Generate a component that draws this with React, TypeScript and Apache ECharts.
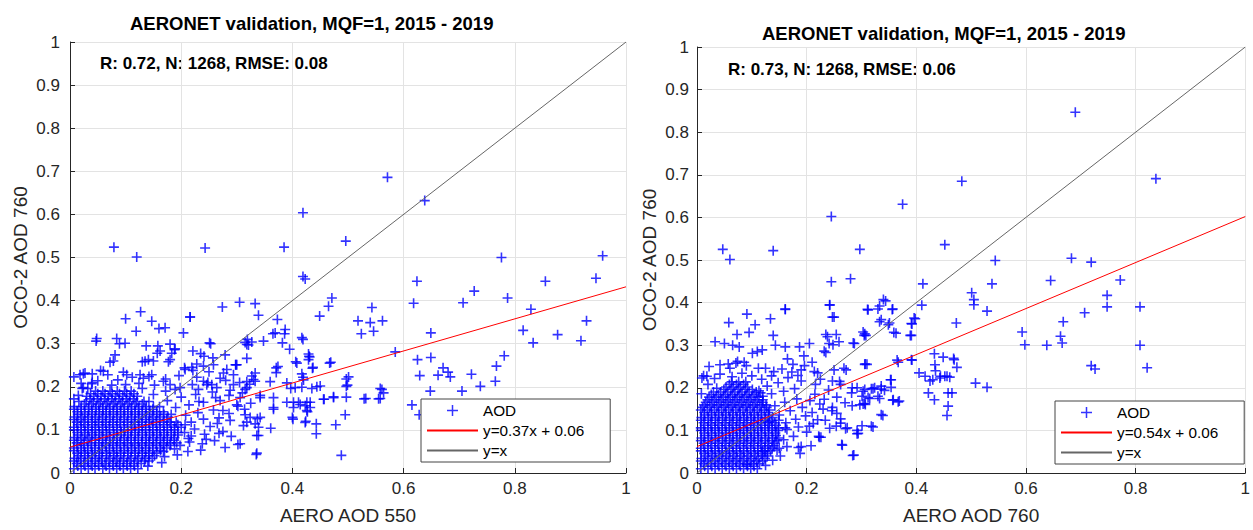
import React, { useEffect, useRef } from "react";
import * as echarts from "echarts";

// All point values are in hundredths of AOD: [x, y]
// ---------- Left panel: AERO AOD 550 vs OCO-2 AOD 760 ----------
const leftCoreRows: [number, number[]][] = [
  [1.0, [0.7, 2.0, 3.3, 4.5, 5.9, 7.1, 8.4, 9.6, 10.9]],
  [1.6, [1.4, 2.7, 4.0, 5.2, 6.5, 7.8, 9.0, 10.3, 11.6]],
  [2.2, [1.2, 2.5, 3.8, 5.1, 6.3, 7.7, 8.9, 10.2, 11.5, 12.8]],
  [2.8, [0.7, 1.9, 3.2, 4.5, 5.7, 7.0, 8.3, 9.6, 10.8, 12.1, 13.4]],
  [3.4, [0.8, 2.0, 3.3, 4.6, 5.8, 7.2, 8.5, 9.7, 11.0, 12.3, 13.6, 14.8]],
  [4.0, [1.5, 2.7, 4.0, 5.3, 6.6, 7.9, 9.1, 10.4, 11.7, 13.0, 14.2, 15.2]],
  [4.6, [1.3, 2.6, 3.9, 5.2, 6.5, 7.8, 9.1, 10.4, 11.7, 13.0, 14.2, 15.6]],
  [5.2, [0.7, 2.0, 3.2, 4.5, 5.8, 7.1, 8.4, 9.7, 11.0, 12.3, 13.6, 14.9, 16.3]],
  [5.8, [0.7, 2.0, 3.2, 4.5, 5.8, 7.1, 8.4, 9.8, 11.1, 12.4, 13.6, 14.9, 16.2, 17.4]],
  [6.4, [1.4, 2.6, 3.9, 5.2, 6.5, 7.8, 9.1, 10.4, 11.7, 13.0, 14.3, 15.6, 16.9, 18.0]],
  [7.0, [1.2, 2.5, 3.8, 5.2, 6.4, 7.7, 9.0, 10.3, 11.6, 12.9, 14.2, 15.5, 16.8, 18.1, 19.2]],
  [7.6, [0.7, 1.9, 3.1, 4.5, 5.8, 7.1, 8.4, 9.7, 11.0, 12.3, 13.6, 14.9, 16.2, 17.5, 18.7]],
  [8.2, [0.8, 2.1, 3.4, 4.6, 5.9, 7.2, 8.5, 9.8, 11.0, 12.3, 13.7, 15.0, 16.3, 17.5, 18.8]],
  [8.8, [1.4, 2.7, 4.0, 5.3, 6.6, 7.9, 9.1, 10.4, 11.7, 13.0, 14.3, 15.6, 16.9, 18.2, 19.4]],
  [9.4, [1.3, 2.6, 3.9, 5.2, 6.5, 7.8, 9.2, 10.4, 11.7, 13.0, 14.3, 15.6, 16.9, 18.2, 19.4, 20.6]],
  [10.0, [0.7, 2.0, 3.2, 4.5, 5.8, 7.1, 8.5, 9.8, 11.0, 12.3, 13.6, 14.9, 16.2, 17.5, 18.8]],
  [10.6, [0.7, 2.0, 3.3, 4.6, 5.9, 7.1, 8.4, 9.7, 11.1, 12.4, 13.6, 14.9, 16.2, 17.5, 18.8, 20.0]],
  [11.2, [1.4, 2.7, 4.0, 5.2, 6.5, 7.8, 9.1, 10.4, 11.7, 13.0, 14.3, 15.6, 16.9, 18.2, 19.4, 20.7]],
  [11.8, [1.2, 2.5, 3.9, 5.1, 6.4, 7.7, 9.0, 10.3, 11.6, 12.9, 14.2, 15.5, 16.8, 18.0, 19.1]],
  [12.4, [0.7, 1.9, 3.2, 4.5, 5.8, 7.1, 8.4, 9.7, 11.0, 12.3, 13.6, 14.8, 16.1, 17.4]],
  [13.0, [0.8, 2.1, 3.3, 4.6, 5.9, 7.2, 8.5, 9.8, 11.1, 12.4, 13.7, 15.0, 16.2, 17.6]],
  [13.6, [1.4, 2.7, 4.0, 5.3, 6.5, 7.8, 9.1, 10.4, 11.7, 13.0, 14.3, 15.6, 16.9, 18.2]],
  [14.2, [1.3, 2.6, 3.9, 5.2, 6.5, 7.8, 9.1, 10.4, 11.7, 13.0, 14.3, 15.6, 16.8]],
  [14.8, [0.7, 2.0, 3.3, 4.6, 5.9, 7.1, 8.4, 9.7, 11.0, 12.3, 13.6, 14.9]],
  [15.4, [0.8, 2.0, 3.4, 4.7, 5.9, 7.2, 8.5, 9.8, 11.1, 12.4, 13.7, 15.0, 16.1]],
  [16.0, [2.6, 3.9, 5.2, 6.5, 7.8, 9.1, 10.4, 11.7, 13.0]],
  [16.6, [1.6, 2.9, 4.2, 5.5, 6.8, 8.1, 9.4, 10.7, 12.0, 13.3, 14.2]],
  [17.2, [3.6, 4.9, 6.2, 7.5, 8.8, 10.1, 11.4]],
  [17.8, [3.0, 4.3, 5.6, 6.9, 8.2, 9.5, 10.8, 12.1]],
  [18.4, [3.7, 5.0, 6.3, 7.6, 8.9, 10.2, 11.5]],
  [19.0, [4.6, 5.9, 7.2, 8.5, 9.8, 11.0]],
];

const leftModerate: number[][] = [
  [12.2, 1.0], [14.0, 1.6], [16.5, 2.4], [14.2, 2.8], [17.0, 3.8], [19.3, 4.2], [16.8, 5.0], [18.8, 5.6],
  [21.2, 5.0], [23.5, 5.3], [19.8, 6.4], [21.5, 7.2], [23.8, 6.8], [26.0, 7.5], [21.8, 8.6], [24.2, 9.0],
  [22.4, 10.2], [25.2, 10.8], [27.5, 9.6], [21.8, 11.8], [24.0, 12.5], [26.8, 12.8], [20.8, 13.4], [23.0, 14.0],
  [25.8, 14.6], [28.6, 13.8], [19.0, 15.2], [21.4, 15.8], [24.0, 16.4], [27.0, 16.8], [30.2, 15.5], [17.5, 16.8],
  [20.0, 17.6], [22.6, 18.2], [25.6, 18.8], [28.8, 19.2], [15.0, 18.2], [17.2, 19.0], [19.8, 19.8], [13.0, 19.6],
  [15.2, 20.4], [22.0, 20.5], [24.8, 21.0], [12.4, 20.8], [10.0, 20.5], [7.5, 20.4], [3.2, 19.6], [1.5, 18.0],
  [0.7, 17.2], [2.0, 20.8], [5.0, 21.4], [8.6, 21.6], [11.2, 22.2], [14.2, 22.4], [17.2, 21.8], [19.6, 22.6],
  [27.0, 22.0], [30.5, 21.0], [6.8, 22.8], [9.6, 23.4], [4.0, 23.0], [21.3, 8.0],
  [26.5, 11.5], [28.8, 12.2], [31.2, 11.0], [27.5, 14.5], [30.0, 15.8], [32.5, 16.2], [26.2, 17.5], [28.6, 18.0],
  [31.0, 18.6], [25.5, 20.5], [28.0, 21.5], [22.8, 22.2], [25.0, 23.5], [29.0, 8.5], [26.8, 9.2], [24.5, 7.8],
  [31.5, 13.5], [23.2, 16.6],
  [1.8, 22.8], [2.7, 23.2], [3.9, 20.7], [2.4, 19.8], [10.2, 22.8], [12.6, 22.8], [13.2, 22.0], [14.7, 22.8],
  [16.8, 21.3], [18.0, 20.5], [18.9, 19.4], [24.0, 21.3], [24.6, 20.5], [23.1, 19.4], [26.4, 19.8], [29.4, 20.5],
  [31.5, 19.4], [32.7, 22.5], [33.3, 21.3],
  [6.0, 23.6], [8.1, 27.4], [7.2, 25.7], [7.8, 26.0], [13.5, 25.9], [14.1, 26.3], [15.0, 26.0], [18.0, 26.3],
  [20.7, 24.0], [21.9, 24.5], [22.8, 25.3], [24.0, 24.8], [25.8, 25.1], [28.2, 24.0], [29.4, 22.8], [27.6, 23.2],
  [30.0, 25.1], [31.8, 26.6], [32.7, 30.4], [32.1, 29.7],
  [4.8, 31.2], [4.7, 30.6], [8.4, 31.2], [8.9, 30.0], [9.9, 30.1], [13.7, 29.5], [15.8, 29.5], [16.2, 28.3],
  [15.7, 27.8], [18.9, 28.8], [18.3, 27.8], [22.1, 28.3], [24.1, 27.1], [25.3, 30.0], [27.9, 27.4],
  [10.0, 35.8], [14.7, 35.2], [16.0, 33.5], [17.1, 33.7], [12.7, 37.4], [11.9, 32.9], [20.4, 32.5], [21.6, 36.2],
  [0.7, 22.3], [2.4, 23.0], [2.2, 19.6], [4.0, 21.0], [5.5, 23.8], [13.0, 25.8], [17.7, 25.8], [18.0, 29.9],
  [18.8, 28.6], [20.6, 24.4], [22.1, 23.8], [23.5, 27.7], [25.7, 26.7], [29.8, 25.1],
];

const leftSparse: number[][] = [
  [7.9, 52.4], [12, 50.1], [24.3, 52.2], [38.5, 52.4], [41.9, 60.4], [57.1, 68.6], [63.8, 63.2], [49.6, 53.8],
  [41.9, 45.6], [42.3, 45], [77.6, 50], [95.8, 50.4], [94.6, 45.2], [85.5, 44.5], [62.4, 44.5], [72.7, 42.2],
  [78.7, 40.6], [70.7, 39.5], [61.8, 39.4], [82.9, 38], [47.1, 40.6], [46.5, 38.7], [54.3, 38.4], [44.9, 36.4],
  [51.8, 35.3], [54, 34.9], [56.2, 35.3], [52.4, 32.3], [54.6, 32.9], [64.9, 32.5], [81.5, 33.1], [92.9, 35.3],
  [87.7, 32.1], [91.9, 30.7], [83.3, 30.2], [58.5, 28.1], [62.5, 26.3], [64.9, 26.8], [78.1, 27.2], [76.7, 24.8],
  [76.5, 21.3], [72.2, 22.9], [73.8, 20.1], [67.1, 24.4], [68, 23.4], [68.4, 22.3], [66.2, 22.7], [62.9, 22.6],
  [64.8, 19], [70.5, 19], [61.5, 15.8], [62.8, 13.5], [55.8, 19.6], [55.5, 17.2], [56.4, 18.6], [52.9, 17.2],
  [49.7, 21.8], [49.7, 20.1], [49.7, 17.6], [49.5, 13.5], [47.8, 11.2], [48.8, 4.1], [46.7, 25.5], [41.9, 31],
  [39.5, 28.7], [43, 27.1], [42.9, 26.3], [43.6, 24.3], [38.6, 32.3], [36.5, 32.3], [38.2, 30.2], [37.3, 35.6],
  [33.9, 36.6], [33.3, 39.3], [30.5, 39.6], [27.4, 38.5], [21.6, 36.2], [25.1, 30.2], [31.5, 30.3], [34.8, 30.6],
  [29.8, 25.1], [37.1, 24.4], [37.1, 23.3], [40.6, 25.8], [41.9, 22.2], [44.4, 20], [39.7, 19.6], [41.4, 15.9],
  [42.3, 15.6], [45.7, 17.1], [42.7, 14.2], [40.1, 12.5], [42.3, 11.7], [44.3, 11.4], [44.3, 9.1], [36.1, 10.4],
  [33.6, 8.7], [33.5, 4.3], [30.2, 6.6], [27.9, 5.9], [36.6, 14.8], [33.7, 12.6], [34.2, 18],
  [31.9, 31], [31.8, 29.8], [36.9, 32.5], [38.7, 33.3], [41.7, 31.4], [42.9, 27.6], [43.1, 26.9], [40.8, 25.5],
  [43.7, 24.5], [46.9, 25.7], [41.7, 23], [42, 21.6], [37.4, 24.7], [33.3, 23.2], [33, 21.7], [36, 21.2],
  [31.8, 21.2], [32.3, 20.6], [50.1, 22.3], [49.9, 20.4], [56.1, 19.4], [53.2, 17.3], [55.8, 17.3], [47.4, 17.5],
  [33.6, 4.6], [33.9, 8.7], [42.4, 12], [40, 12.9], [32.4, 12.9], [34.2, 12.9], [33.3, 11.4], [31.8, 11.8],
  [33.9, 10.6], [31.4, 14.8], [39, 16.4], [40.2, 16.4], [42.6, 16.4], [43.2, 16.4], [41.1, 16.4], [40.2, 15.2],
  [43.2, 15.2], [42.6, 14.5], [45.6, 17.1], [47.4, 17.7], [45, 20.2], [43.5, 19.6], [41.7, 19.9], [40.5, 19.8],
  [39, 20.9], [36.6, 15.2], [34.2, 17.5], [31.8, 19.8], [30.6, 17.5], [36.6, 17.5], [30.6, 6.8],
];

// ---------- Right panel: AERO AOD 760 vs OCO-2 AOD 760 ----------
const rightCoreRows: [number, number[]][] = [
  [1.0, [0.7, 2.0, 3.3, 4.6, 5.9, 7.2, 8.5, 9.8]],
  [1.6, [1.4, 2.7, 4.0, 5.3, 6.6, 7.9, 9.2, 10.4]],
  [2.2, [1.2, 2.5, 3.8, 5.1, 6.4, 7.7, 9.0, 10.3, 11.4]],
  [2.8, [0.7, 1.9, 3.2, 4.5, 5.8, 7.1, 8.4, 9.7, 10.9, 12.0]],
  [3.4, [0.8, 2.1, 3.4, 4.7, 6.0, 7.3, 8.6, 9.9, 11.2, 12.4]],
  [4.0, [1.5, 2.8, 4.1, 5.4, 6.7, 8.0, 9.3, 10.6, 11.9, 12.8]],
  [4.6, [1.3, 2.6, 3.9, 5.2, 6.5, 7.8, 9.1, 10.4, 11.7, 12.9]],
  [5.2, [0.7, 2.0, 3.3, 4.6, 5.9, 7.2, 8.5, 9.8, 11.1, 12.4, 13.4]],
  [5.8, [0.7, 2.0, 3.3, 4.6, 5.9, 7.2, 8.5, 9.8, 11.1, 12.4, 13.7, 15.0]],
  [6.4, [1.4, 2.7, 4.0, 5.3, 6.6, 7.9, 9.2, 10.5, 11.8, 13.1, 14.0]],
  [7.0, [1.2, 2.5, 3.8, 5.1, 6.4, 7.7, 9.0, 10.3, 11.6, 12.9, 14.2]],
  [7.6, [0.7, 2.0, 3.3, 4.6, 5.9, 7.2, 8.5, 9.8, 11.1, 12.4, 13.7, 14.6]],
  [8.2, [0.8, 2.1, 3.4, 4.7, 6.0, 7.3, 8.6, 9.9, 11.2, 12.5, 13.8, 14.9]],
  [8.8, [1.4, 2.7, 4.0, 5.3, 6.6, 7.9, 9.2, 10.5, 11.8, 13.1, 14.4]],
  [9.4, [1.3, 2.6, 3.9, 5.2, 6.5, 7.8, 9.1, 10.4, 11.7, 13.0, 14.3]],
  [10.0, [0.7, 2.0, 3.3, 4.6, 5.9, 7.2, 8.5, 9.8, 11.1, 12.4, 13.7, 14.8]],
  [10.6, [0.7, 2.0, 3.3, 4.6, 5.9, 7.2, 8.5, 9.8, 11.1, 12.4, 13.7, 14.9, 16.1]],
  [11.2, [1.4, 2.7, 4.0, 5.3, 6.6, 7.9, 9.2, 10.5, 11.8, 13.1, 14.4]],
  [11.8, [1.2, 2.5, 3.8, 5.1, 6.4, 7.7, 9.0, 10.3, 11.6, 12.9, 14.2]],
  [12.4, [0.7, 2.0, 3.3, 4.6, 5.9, 7.2, 8.5, 9.8, 11.1, 12.4, 13.6, 14.9]],
  [13.0, [0.8, 2.1, 3.4, 4.7, 6.0, 7.3, 8.6, 9.9, 11.2, 12.5, 13.8]],
  [13.6, [1.4, 2.7, 4.0, 5.3, 6.6, 7.9, 9.2, 10.5, 11.8, 13.1]],
  [14.2, [1.3, 2.6, 3.9, 5.2, 6.5, 7.8, 9.1, 10.4, 11.7, 13.0]],
  [14.8, [0.7, 1.9, 3.2, 4.5, 5.8, 7.1, 8.4, 9.7, 11.0, 12.3, 13.2]],
  [15.4, [1.0, 2.3, 3.6, 4.9, 6.2, 7.5, 8.8, 10.1, 11.4, 12.7]],
  [16.0, [1.3, 2.6, 3.9, 5.2, 6.5, 7.8, 9.1, 10.4, 11.7, 12.6]],
  [16.6, [1.6, 2.9, 4.2, 5.5, 6.8, 8.1, 9.4, 10.7, 12.0]],
  [17.2, [1.9, 3.2, 4.5, 5.8, 7.1, 8.4, 9.7, 11.0, 12.0]],
  [17.8, [2.2, 3.5, 4.8, 6.1, 7.4, 8.7, 10.0, 11.3]],
  [18.4, [2.6, 3.9, 5.2, 6.5, 7.8, 9.1, 10.4]],
  [19.0, [3.0, 4.3, 5.6, 6.9, 8.2, 9.5, 10.8]],
  [19.6, [4.9, 6.2, 7.5, 8.8, 10.1]],
  [20.2, [5.3, 6.6, 7.9, 9.2]],
  [20.8, [5.9, 7.2, 8.5]],
  [21.4, [6.3, 7.6, 8.9]],
];

const rightModerate: number[][] = [
  [11.0, 1.0], [12.5, 1.8], [13.8, 3.0], [15.2, 4.0], [14.6, 5.4], [16.4, 6.2], [15.8, 7.8], [17.6, 8.6],
  [16.4, 10.2], [18.5, 10.8], [20.0, 9.6], [16.2, 11.8], [18.0, 12.6], [19.8, 13.4], [15.0, 13.6], [17.0, 14.6],
  [19.2, 15.4], [21.0, 14.2], [14.2, 15.8], [16.0, 16.6], [18.2, 17.4], [20.6, 17.0], [22.4, 16.2], [13.6, 18.6],
  [15.8, 19.2], [17.8, 19.8], [12.8, 20.4], [14.8, 21.2], [11.8, 22.0], [13.6, 22.8], [16.6, 22.4], [19.0, 21.6],
  [21.6, 20.8], [2.0, 20.8], [3.2, 22.2], [1.2, 22.8], [0.8, 18.6], [4.2, 23.2], [6.4, 22.6], [8.2, 23.4],
  [10.0, 22.8], [11.2, 24.6], [9.0, 25.2], [6.0, 24.6], [7.4, 26.2], [2.2, 25.0], [13.2, 12.0], [9.2, 2.0],
  [12.0, 5.2], [18.8, 4.6], [20.8, 6.4], [22.6, 8.4], [21.2, 11.6], [23.4, 12.4], [24.6, 14.6], [25.4, 11.0],
  [16.5, 26.8], [19.5, 27.5], [21.0, 26.0], [22.5, 22.0], [24.0, 19.5], [25.5, 17.8], [21.5, 18.5], [23.0, 15.0],
  [25.5, 14.0], [27.0, 16.5], [22.0, 12.5], [24.2, 10.5], [20.5, 11.0], [26.0, 21.5], [19.0, 24.2], [17.5, 25.5],
  [24.2, 39.4], [25.0, 36.6], [31.2, 38.3], [33.0, 38.5], [16.1, 38.5], [9.1, 37.3], [5.8, 35.3], [10.6, 34.8],
  [9.5, 33.0], [7.3, 32.5], [13.4, 36.2], [13.9, 32.3], [3.3, 30.8], [5.0, 30.4], [6.5, 30.0], [7.7, 29.6],
  [10.1, 28.1], [11.0, 28.5], [11.9, 28.9], [14.3, 30.0], [16.1, 29.6], [18.7, 29.6], [20.5, 30.4], [23.8, 32.0],
  [24.1, 30.4], [23.5, 28.3], [25.9, 30.8], [28.7, 30.4], [25.0, 24.2], [26.8, 24.6], [27.2, 24.2], [30.6, 25.5],
  [30.8, 32.3], [4.2, 25.4], [5.7, 25.6], [7.1, 25.8], [8.6, 26.0], [1.8, 22.7], [0.9, 22.3], [12.5, 24.6],
  [14.0, 23.8], [15.5, 24.4], [17.3, 23.7], [18.4, 22.9], [19.6, 25.2], [21.4, 23.8], [22.0, 23.5], [24.7, 21.6],
  [26.2, 20.8], [28.3, 20.0], [30.6, 19.6], [32.4, 20.0], [33.6, 20.4], [23.2, 17.3], [24.7, 15.4], [26.2, 12.7],
  [27.1, 10.4], [29.2, 10.0], [30.6, 16.3], [28.3, 15.8], [22.3, 8.4], [26.5, 6.5], [28.6, 4.2], [19.0, 6.2],
  [3.6, 19.9], [11.3, 19.3], [12.0, 18.0], [11.6, 18.8],
];

const rightSparse: number[][] = [
  [69, 84.7], [83.7, 69.1], [48.3, 68.5], [37.5, 63.1], [24.5, 60.2], [45.2, 53.6], [4.7, 52.5], [6, 50.1],
  [13.9, 52.2], [29.7, 52.5], [54.4, 49.9], [68.3, 50.4], [71.9, 49.5], [24.5, 44.9], [28, 45.6], [41.2, 44.4],
  [53.8, 44.4], [64.5, 45.2], [77.2, 45.3], [50.1, 42.3], [50.5, 40.7], [50.5, 39.5], [74.8, 41.7], [74.8, 39],
  [80.8, 39], [52.9, 38], [41, 39.4], [34, 40.7], [33.3, 39.2], [31.1, 38.4], [35.6, 38.4], [24.2, 39.5],
  [16.1, 38.4], [24.7, 36.6], [70.7, 37.6], [39.6, 36.4], [39.1, 35.1], [47.3, 35.2], [66.8, 35.5], [33.3, 35.5],
  [34.9, 34.8], [35.9, 33], [30.3, 33.1], [30.5, 32.3], [59.3, 33.1], [59.8, 30.1], [63.8, 30], [66.3, 32.1],
  [66.6, 30.5], [80.8, 30], [39.1, 32.3], [25.4, 32.5], [23.5, 32.5], [28.5, 30.5], [24.8, 30.1], [23.2, 28.6],
  [82.1, 24.7], [71.9, 25.2], [72.6, 24.4], [39.1, 26.6], [36.5, 26.5], [30.7, 25.6], [43.3, 28], [44.9, 27.2],
  [46.8, 26.9], [47.4, 24.8], [43.4, 25.4], [40.5, 23.5], [41.6, 22.7], [43, 21.9], [44.4, 22.7], [45.6, 22.7],
  [42.2, 18.8], [43.3, 17.2], [45.8, 18.8], [46.5, 18.8], [45.8, 15.7], [45.6, 13.5], [50.8, 21.1], [52.9, 20.1],
  [35.3, 21.9], [33.6, 19.7], [35.8, 17.2], [36.7, 16.7], [33.6, 13.7], [30.1, 11.1], [31.8, 11], [29.2, 9.2],
  [26.4, 6.7], [28.4, 4.1], [27.4, 10.6], [26.2, 11.7], [22.2, 8.6], [18.5, 6], [30.7, 16.1], [30.1, 18],
  [28.2, 18.8], [29.2, 20],
  [34.4, 40.4], [35.7, 38.5], [33.6, 36], [35.1, 35.2], [36.3, 32.8], [39.8, 36.2], [39.2, 35], [38.9, 32.3],
  [30.6, 32.7], [46.9, 26.6], [45.2, 22.7], [46.1, 22.5], [43.5, 24], [39.2, 26.5], [36.7, 26], [31, 25.5],
  [35.4, 21.9], [35.4, 20.1], [34.2, 19.4], [31.8, 19.8], [30.3, 19.2], [31.2, 17.7], [33, 18],
  [42.5, 21.6], [44.3, 22.3], [32.1, 19.8], [31.5, 17.5], [33.3, 17.5], [35.7, 17.1], [36.9, 16.9], [30.3, 16.2],
  [29.7, 16], [32.1, 10.8], [29.4, 9.3], [33.9, 13.5],
];

// Reference lines (endpoints at x = 0 and x = 1)
const leftFit = [[0, 0.06], [1, 0.432]];
const rightFit = [[0, 0.062], [1, 0.602]];
const identity = [[0, 0], [1, 1]];

const titleText = "AERONET validation, MQF=1, 2015 - 2019";
const leftStats = "R: 0.72, N: 1268, RMSE: 0.08";
const rightStats = "R: 0.73, N: 1268, RMSE: 0.06";
const leftFitName = "y=0.37x + 0.06";
const rightFitName = "y=0.54x + 0.06";
const leftXName = "AERO AOD 550";
const rightXName = "AERO AOD 760";
const yName = "OCO-2 AOD 760";

const FONT = "'Liberation Sans', Arial, Helvetica, sans-serif";
const TXT = "#262626";
const CROSS = "path://M0 5H10M5 0V10";
const IDENTITY_COLOR = "#666666";
const FIT_COLOR = "#ff0000";

const scale = (pts: number[][]) => pts.map(([x, y]) => [x / 100, y / 100]);
const fromRows = (rows: [number, number[]][]) => {
  const out: number[][] = [];
  rows.forEach(([y, xs]) => xs.forEach((x) => out.push([x, y])));
  return out;
};

const leftPoints = scale([...fromRows(leftCoreRows), ...leftModerate, ...leftSparse]);
const rightPoints = scale([...fromRows(rightCoreRows), ...rightModerate, ...rightSparse]);

function xAxisCfg(gridIndex: number, name: string) {
  return {
    gridIndex,
    type: "value",
    min: 0,
    max: 1,
    interval: 0.2,
    name,
    nameLocation: "middle",
    nameGap: 33,
    nameTextStyle: { fontSize: 19, color: TXT, fontFamily: FONT },
    axisLine: { show: true, onZero: false, lineStyle: { color: TXT, width: 1 } },
    axisTick: { show: true, inside: true, length: 5, lineStyle: { color: TXT } },
    axisLabel: { fontSize: 17, color: TXT, fontFamily: FONT, margin: 7 },
    splitLine: { show: true, lineStyle: { color: "#e3e3e3", width: 1 } },
  };
}

function yAxisCfg(gridIndex: number, nameGap: number, margin: number) {
  return {
    gridIndex,
    type: "value",
    min: 0,
    max: 1,
    interval: 0.1,
    name: yName,
    nameLocation: "middle",
    nameGap,
    nameTextStyle: { fontSize: 19, color: TXT, fontFamily: FONT },
    axisLine: { show: true, onZero: false, lineStyle: { color: TXT, width: 1 } },
    axisTick: { show: true, inside: true, length: 5, lineStyle: { color: TXT } },
    axisLabel: { fontSize: 17, color: TXT, fontFamily: FONT, margin },
    splitLine: { show: true, lineStyle: { color: "#e3e3e3", width: 1 } },
  };
}

function legendCfg(left: number, top: number, fitName: string) {
  return {
    data: [
      { name: "AOD", icon: CROSS, itemStyle: { color: "#0000ff", borderColor: "#0000ff", borderWidth: 1.5 } },
      { name: fitName, itemStyle: { opacity: 0 } },
      { name: "y=x", itemStyle: { opacity: 0 } },
    ],
    orient: "vertical",
    left,
    top,
    padding: [4, 26, 4, 5],
    itemWidth: 51,
    itemHeight: 11,
    itemGap: 5,
    backgroundColor: "#ffffff",
    borderColor: "#444444",
    borderWidth: 1,
    selectedMode: false,
    textStyle: { fontSize: 15.3, color: "#000", fontFamily: FONT },
  };
}

function scatterSeries(idx: number, data: number[][]) {
  return {
    type: "scatter",
    name: "AOD",
    xAxisIndex: idx,
    yAxisIndex: idx,
    symbol: CROSS,
    symbolSize: 10,
    symbolKeepAspect: true,
    itemStyle: { color: "#0000ff", borderColor: "#0000ff", borderWidth: 1.6 },
    data,
    z: 2,
    silent: true,
  };
}

function lineSeries(idx: number, name: string, data: number[][], color: string) {
  return {
    type: "line",
    name,
    xAxisIndex: idx,
    yAxisIndex: idx,
    data,
    symbol: "none",
    lineStyle: { color, width: 1 },
    itemStyle: { color },
    z: 3,
    silent: true,
  };
}

export default function App() {
  const ref = useRef<HTMLDivElement>(null);
  useEffect(() => {
    if (!ref.current) return;
    const chart = echarts.init(ref.current, undefined, { renderer: "svg" });
    chart.setOption({
      animation: false,
      backgroundColor: "#ffffff",
      title: [
        {
          text: titleText,
          left: 130,
          top: 14,
          padding: 0,
          textStyle: { fontSize: 18.5, fontWeight: "bold", color: "#000", fontFamily: FONT },
        },
        {
          text: titleText,
          left: 762,
          top: 24,
          padding: 0,
          textStyle: { fontSize: 18.5, fontWeight: "bold", color: "#000", fontFamily: FONT },
        },
      ],
      grid: [
        { left: 70, top: 42, width: 556, height: 438 },
        { left: 697, top: 47, width: 560, height: 433 },
      ],
      xAxis: [xAxisCfg(0, leftXName), xAxisCfg(1, rightXName)],
      yAxis: [yAxisCfg(0, 40, 10), yAxisCfg(1, 38, 8)],
      legend: [legendCfg(421, 399, leftFitName), legendCfg(1055, 401, rightFitName)],
      graphic: [
        {
          type: "text",
          left: 100,
          top: 55,
          style: { text: leftStats, fill: "#000", font: `bold 17px ${FONT}` },
        },
        {
          type: "text",
          left: 728,
          top: 61,
          style: { text: rightStats, fill: "#000", font: `bold 17px ${FONT}` },
        },
      ],
      series: [
        scatterSeries(0, leftPoints),
        lineSeries(0, leftFitName, leftFit, FIT_COLOR),
        lineSeries(0, "y=x", identity, IDENTITY_COLOR),
        scatterSeries(1, rightPoints),
        lineSeries(1, rightFitName, rightFit, FIT_COLOR),
        lineSeries(1, "y=x", identity, IDENTITY_COLOR),
      ],
    });
    return () => chart.dispose();
  }, []);
  return (
    <div
      ref={ref}
      style={{ position: "absolute", left: 0, top: 0, width: 1253, height: 530, background: "#fff" }}
    />
  );
}
